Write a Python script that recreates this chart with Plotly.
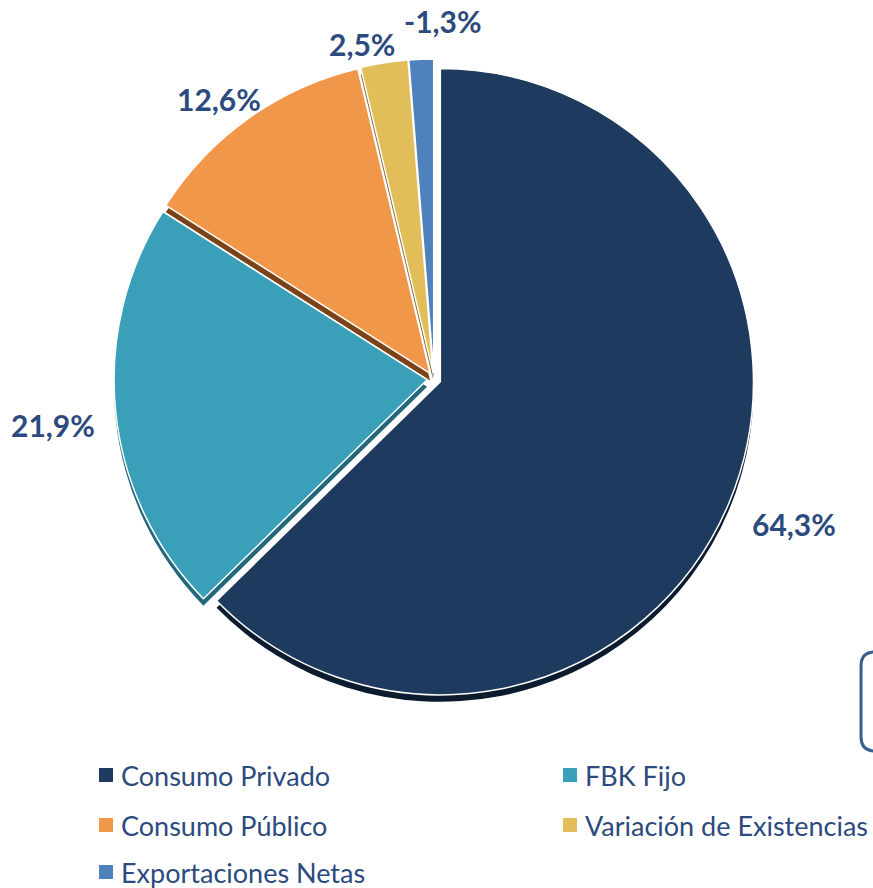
import math
import plotly.graph_objects as go

categories = ["Consumo Privado", "FBK Fijo", "Consumo Público", "Variación de Existencias", "Exportaciones Netas"]
values = [64.3, 21.9, 12.6, 2.5, 1.3]
value_labels = ["64,3%", "21,9%", "12,6%", "2,5%", "-1,3%"]
colors = ["#1E3A5F", "#3A9FB8", "#F0974A", "#E2BE5A", "#4F81BD"]
shadow_colors = ["#0D1B2E", "#23677A", "#7A4418", "#7D6526", "#2B4A75"]

# style: label placement (radius factor, angle nudge in degrees)
label_style = [(1.238, -0.9), (1.224, -0.9), (1.128, -2.1), (1.096, -3.2), (1.145, 3.7)]

TXT = "#2C4A7E"
W, H = 873, 888
cx, cy, r = 434, 379, 320
pull = 0.022
shadow_dy = 7


def dom(dx=0, dy=0):
    return dict(x=[(cx + dx - r) / W, (cx + dx + r) / W],
                y=[(H - cy - dy - r) / H, (H - cy - dy + r) / H])


fig = go.Figure()
fig.add_trace(go.Pie(
    labels=categories, values=values, sort=False, direction="clockwise", rotation=0,
    pull=[pull] * len(values), textinfo="none", hoverinfo="skip",
    marker=dict(colors=shadow_colors, line=dict(color="rgba(0,0,0,0)", width=0)),
    domain=dom(0, shadow_dy), showlegend=False,
))
fig.add_trace(go.Pie(
    labels=categories, values=values, sort=False, direction="clockwise", rotation=0,
    pull=[pull] * len(values), textinfo="none",
    marker=dict(colors=colors, line=dict(color="white", width=1.5)),
    domain=dom(), showlegend=False,
))

# value labels, placed from the slice angles
total = sum(values)
reff = r / (1 + pull)
cum = 0
for v, lab, (rf, nudge) in zip(values, value_labels, label_style):
    mid = (cum + v / 2) / total * 360 + nudge
    cum += v
    a = math.radians(mid)
    x = cx + rf * reff * math.sin(a)
    y = cy - rf * reff * math.cos(a)
    fig.add_annotation(x=x / W, y=1 - y / H, xref="paper", yref="paper", text=lab,
                       showarrow=False, xanchor="center", yanchor="middle",
                       font=dict(size=30, color=TXT, family="Lato", weight="bold"))

# legend (two columns)
col_x = [99, 563]
row_y = [775, 825, 872]
for i, (name, c) in enumerate(zip(categories, colors)):
    lx = col_x[i % 2]
    ly = row_y[i // 2]
    fig.add_shape(type="rect", xref="paper", yref="paper",
                  x0=lx / W, x1=(lx + 14) / W, y0=1 - (ly - 7) / H, y1=1 - (ly + 7) / H,
                  fillcolor=c, line=dict(width=0))
    fig.add_annotation(x=(lx + 20) / W, y=1 - ly / H, xref="paper", yref="paper", text=name,
                       showarrow=False, xanchor="left", yanchor="middle",
                       font=dict(size=27, color=TXT, family="Lato"))


# partial rounded box at right edge
def px(x, y):
    return f"{x / W:.4f},{1 - y / H:.4f}"


fig.add_shape(type="path", xref="paper", yref="paper",
              path=f"M{px(875, 652)} Q{px(861, 652)} {px(861, 666)} "
                   f"L{px(861, 737)} Q{px(861, 751)} {px(875, 751)}",
              line=dict(color="#3A5F8F", width=3))

fig.update_layout(
    width=W, height=H,
    margin=dict(l=0, r=0, t=0, b=0),
    paper_bgcolor="white", plot_bgcolor="white",
    font=dict(family="Lato", color=TXT),
    showlegend=False,
)
fig.write_html("out.html", config={"displayModeBar": False},
               post_script="document.body.style.margin='0';document.body.style.overflow='hidden';")
